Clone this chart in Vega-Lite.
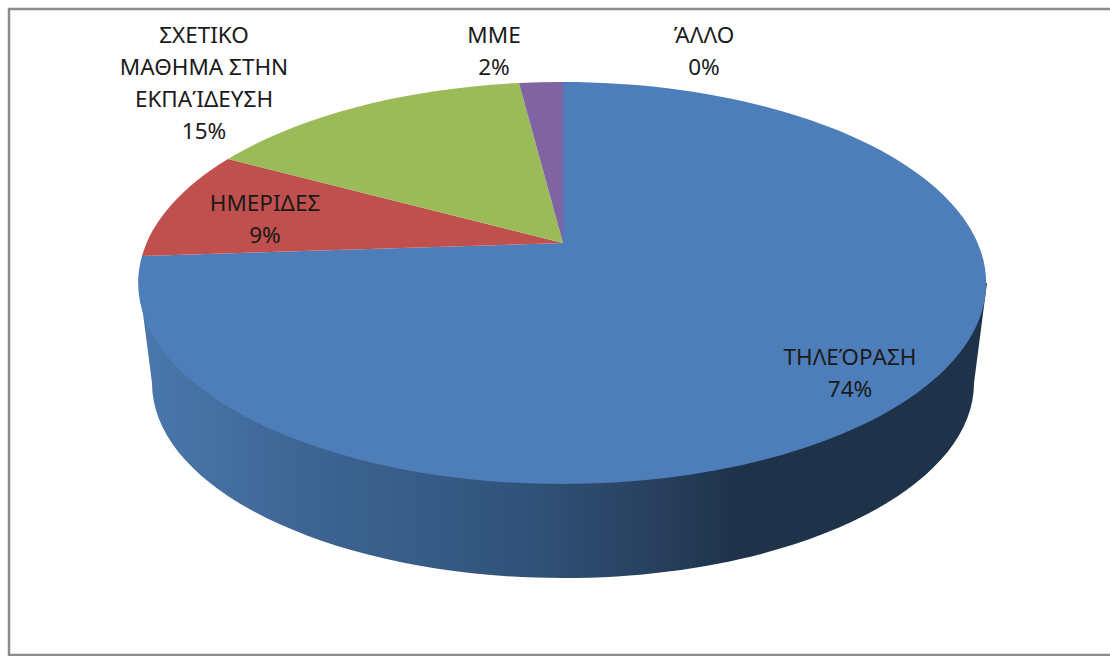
{"$schema":"https://vega.github.io/schema/vega-lite/v6.json","width":1110,"height":656,"padding":0,"autosize":"none","background":"#ffffff","config":{"view":{"stroke":null}},"datasets":{"shares":[{"slice":"ΤΗΛΕΌΡΑΣΗ","share":74,"label":"ΤΗΛΕΌΡΑΣΗ\n74%"},{"slice":"ΗΜΕΡΙΔΕΣ","share":9,"label":"ΗΜΕΡΙΔΕΣ\n9%"},{"slice":"ΣΧΕΤΙΚΟ ΜΑΘΗΜΑ ΣΤΗΝ ΕΚΠΑΊΔΕΥΣΗ","share":15,"label":"ΣΧΕΤΙΚΟ\nΜΑΘΗΜΑ ΣΤΗΝ\nΕΚΠΑΊΔΕΥΣΗ\n15%"},{"slice":"ΜΜΕ","share":2,"label":"ΜΜΕ\n2%"},{"slice":"ΆΛΛΟ","share":0,"label":"ΆΛΛΟ\n0%"}]},"data":{"name":"shares"},"layer":[{"transform":[{"filter":"datum.share==0"}],"mark":{"type":"point","shape":"M555,-319 L-546,-319 L-546,327 L555,327","size":4,"filled":false,"fill":null,"stroke":"#8c8c8c","strokeWidth":2.5,"opacity":1}},{"transform":[{"filter":"datum.share==74"}],"mark":{"type":"point","shape":"M-416,-45 L432,-45 L419,55 A411,195 0 0 1 -403,55 Z","size":4,"filled":true,"opacity":1,"fill":{"gradient":"linear","x1":0,"y1":0,"x2":1,"y2":0,"stops":[{"offset":0,"color":"#4a78ad"},{"offset":0.2,"color":"#3d6593"},{"offset":0.45,"color":"#31537a"},{"offset":0.6,"color":"#28415f"},{"offset":0.71,"color":"#1e3249"},{"offset":1,"color":"#1e3249"}]}}},{"transform":[{"filter":"datum.share>0"}],"mark":{"type":"point","size":4,"filled":true,"opacity":1,"stroke":null},"encoding":{"shape":{"field":"slice","type":"nominal","legend":null,"scale":{"domain":["ΤΗΛΕΌΡΑΣΗ","ΗΜΕΡΙΔΕΣ","ΣΧΕΤΙΚΟ ΜΑΘΗΜΑ ΣΤΗΝ ΕΚΠΑΊΔΕΥΣΗ","ΜΜΕ"],"range":["M8,-85 L8,-246 A424,201 0 1 1 -413,-72 Z","M8,-85 L-413,-72 A424,201 0 0 1 -327,-169 Z","M8,-85 L-327,-169 A424,201 0 0 1 -36,-245 Z","M8,-85 L-36,-245 A424,201 0 0 1 8,-246 Z"]}},"color":{"field":"slice","type":"nominal","legend":null,"scale":{"domain":["ΤΗΛΕΌΡΑΣΗ","ΗΜΕΡΙΔΕΣ","ΣΧΕΤΙΚΟ ΜΑΘΗΜΑ ΣΤΗΝ ΕΚΠΑΊΔΕΥΣΗ","ΜΜΕ"],"range":["#4e7eb9","#c0504d","#9bbb59","#8064a2"]}}}},{"transform":[{"filter":"datum.share==74"}],"mark":{"type":"text","font":"Noto Sans","fontSize":22.5,"lineHeight":32,"lineBreak":"\n","align":"center","baseline":"middle","color":"#1a1a1a","dx":295,"dy":30},"encoding":{"text":{"field":"label"}}},{"transform":[{"filter":"datum.share==9"}],"mark":{"type":"text","font":"Noto Sans","fontSize":22.5,"lineHeight":32,"lineBreak":"\n","align":"center","baseline":"middle","color":"#1a1a1a","dx":-290,"dy":-124},"encoding":{"text":{"field":"label"}}},{"transform":[{"filter":"datum.share==15"}],"mark":{"type":"text","font":"Noto Sans","fontSize":22.5,"lineHeight":32,"lineBreak":"\n","align":"center","baseline":"middle","color":"#1a1a1a","dx":-351,"dy":-292},"encoding":{"text":{"field":"label"}}},{"transform":[{"filter":"datum.share==2"}],"mark":{"type":"text","font":"Noto Sans","fontSize":22.5,"lineHeight":32,"lineBreak":"\n","align":"center","baseline":"middle","color":"#1a1a1a","dx":-61,"dy":-292},"encoding":{"text":{"field":"label"}}},{"transform":[{"filter":"datum.share==0"}],"mark":{"type":"text","font":"Noto Sans","fontSize":22.5,"lineHeight":32,"lineBreak":"\n","align":"center","baseline":"middle","color":"#1a1a1a","dx":149,"dy":-292},"encoding":{"text":{"field":"label"}}}]}
